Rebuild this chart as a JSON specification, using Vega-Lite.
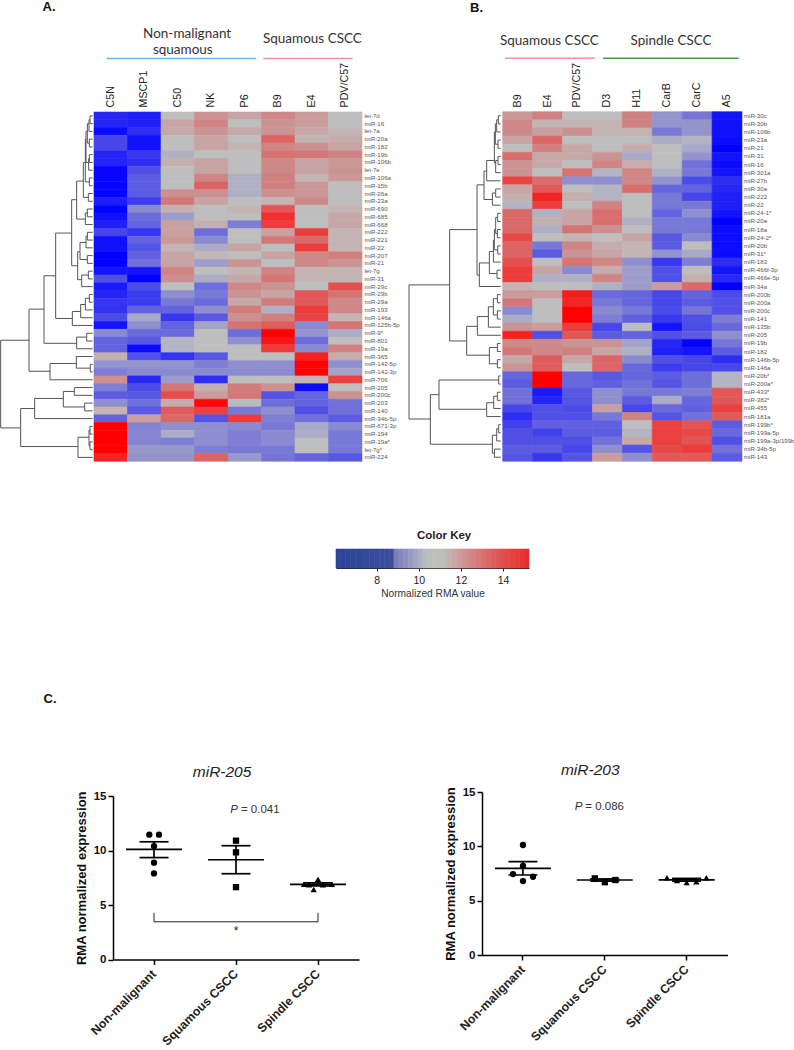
{"$schema":"https://vega.github.io/schema/vega-lite/v6.json","width":794,"height":1050,"padding":0,"autosize":{"type":"none"},"background":"white","config":{"view":{"stroke":null},"axis":{"grid":false,"labelFont":"Liberation Sans","titleFont":"Liberation Sans"}},
"resolve":{"scale":{"x":"independent","y":"independent","color":"independent","shape":"independent","xOffset":"independent","stroke":"independent"},"axis":{"x":"independent","y":"independent"}},
"layer":[
{"data":{"values":[
{"m":"let-7d","s":"C5N","v":6.9},{"m":"let-7d","s":"MSCP1","v":6.7},{"m":"let-7d","s":"C50","v":10.6},{"m":"let-7d","s":"NK","v":12},{"m":"let-7d","s":"P6","v":11.5},{"m":"let-7d","s":"B9","v":12.2},{"m":"let-7d","s":"E4","v":11.7},{"m":"let-7d","s":"PDV/C57","v":10.6},
{"m":"miR-16","s":"C5N","v":6.8},{"m":"miR-16","s":"MSCP1","v":6.7},{"m":"miR-16","s":"C50","v":11.5},{"m":"miR-16","s":"NK","v":12.3},{"m":"miR-16","s":"P6","v":10.6},{"m":"miR-16","s":"B9","v":11.9},{"m":"miR-16","s":"E4","v":11.7},{"m":"miR-16","s":"PDV/C57","v":10.6},
{"m":"let-7a","s":"C5N","v":6.3},{"m":"let-7a","s":"MSCP1","v":7},{"m":"let-7a","s":"C50","v":11.4},{"m":"let-7a","s":"NK","v":11.9},{"m":"let-7a","s":"P6","v":11.4},{"m":"let-7a","s":"B9","v":11.9},{"m":"let-7a","s":"E4","v":11.4},{"m":"let-7a","s":"PDV/C57","v":11},
{"m":"miR-20a","s":"C5N","v":7.5},{"m":"miR-20a","s":"MSCP1","v":6.4},{"m":"miR-20a","s":"C50","v":10.6},{"m":"miR-20a","s":"NK","v":11.5},{"m":"miR-20a","s":"P6","v":10.6},{"m":"miR-20a","s":"B9","v":13},{"m":"miR-20a","s":"E4","v":11.1},{"m":"miR-20a","s":"PDV/C57","v":11.3},
{"m":"miR-182","s":"C5N","v":7.5},{"m":"miR-182","s":"MSCP1","v":6.4},{"m":"miR-182","s":"C50","v":10.6},{"m":"miR-182","s":"NK","v":11.5},{"m":"miR-182","s":"P6","v":11.1},{"m":"miR-182","s":"B9","v":12.3},{"m":"miR-182","s":"E4","v":12},{"m":"miR-182","s":"PDV/C57","v":11.5},
{"m":"miR-19b","s":"C5N","v":6.8},{"m":"miR-19b","s":"MSCP1","v":7.2},{"m":"miR-19b","s":"C50","v":10},{"m":"miR-19b","s":"NK","v":10.6},{"m":"miR-19b","s":"P6","v":10.6},{"m":"miR-19b","s":"B9","v":12.7},{"m":"miR-19b","s":"E4","v":12.6},{"m":"miR-19b","s":"PDV/C57","v":12.3},
{"m":"miR-106b","s":"C5N","v":6.8},{"m":"miR-106b","s":"MSCP1","v":7},{"m":"miR-106b","s":"C50","v":11.2},{"m":"miR-106b","s":"NK","v":11.5},{"m":"miR-106b","s":"P6","v":10.6},{"m":"miR-106b","s":"B9","v":12.2},{"m":"miR-106b","s":"E4","v":11.5},{"m":"miR-106b","s":"PDV/C57","v":11.8},
{"m":"let-7e","s":"C5N","v":6.2},{"m":"let-7e","s":"MSCP1","v":7.7},{"m":"let-7e","s":"C50","v":10.6},{"m":"let-7e","s":"NK","v":11.5},{"m":"let-7e","s":"P6","v":10.6},{"m":"let-7e","s":"B9","v":12.2},{"m":"let-7e","s":"E4","v":11.5},{"m":"let-7e","s":"PDV/C57","v":11.9},
{"m":"miR-106a","s":"C5N","v":6.2},{"m":"miR-106a","s":"MSCP1","v":8},{"m":"miR-106a","s":"C50","v":10.6},{"m":"miR-106a","s":"NK","v":12.3},{"m":"miR-106a","s":"P6","v":10},{"m":"miR-106a","s":"B9","v":12.4},{"m":"miR-106a","s":"E4","v":11.1},{"m":"miR-106a","s":"PDV/C57","v":11.8},
{"m":"miR-15b","s":"C5N","v":6.2},{"m":"miR-15b","s":"MSCP1","v":8},{"m":"miR-15b","s":"C50","v":10.6},{"m":"miR-15b","s":"NK","v":13},{"m":"miR-15b","s":"P6","v":10},{"m":"miR-15b","s":"B9","v":12.4},{"m":"miR-15b","s":"E4","v":11.8},{"m":"miR-15b","s":"PDV/C57","v":10.6},
{"m":"miR-26a","s":"C5N","v":6.2},{"m":"miR-26a","s":"MSCP1","v":8},{"m":"miR-26a","s":"C50","v":12},{"m":"miR-26a","s":"NK","v":12},{"m":"miR-26a","s":"P6","v":10},{"m":"miR-26a","s":"B9","v":12},{"m":"miR-26a","s":"E4","v":11.8},{"m":"miR-26a","s":"PDV/C57","v":10.6},
{"m":"miR-23a","s":"C5N","v":6.7},{"m":"miR-23a","s":"MSCP1","v":7.3},{"m":"miR-23a","s":"C50","v":12.6},{"m":"miR-23a","s":"NK","v":11.5},{"m":"miR-23a","s":"P6","v":10.6},{"m":"miR-23a","s":"B9","v":11.1},{"m":"miR-23a","s":"E4","v":12.2},{"m":"miR-23a","s":"PDV/C57","v":10.6},
{"m":"miR-690","s":"C5N","v":6.1},{"m":"miR-690","s":"MSCP1","v":9.2},{"m":"miR-690","s":"C50","v":11.2},{"m":"miR-690","s":"NK","v":10.6},{"m":"miR-690","s":"P6","v":11.1},{"m":"miR-690","s":"B9","v":13.4},{"m":"miR-690","s":"E4","v":10.6},{"m":"miR-690","s":"PDV/C57","v":11.1},
{"m":"miR-685","s":"C5N","v":6.4},{"m":"miR-685","s":"MSCP1","v":8.5},{"m":"miR-685","s":"C50","v":9.6},{"m":"miR-685","s":"NK","v":10.6},{"m":"miR-685","s":"P6","v":10.6},{"m":"miR-685","s":"B9","v":14.3},{"m":"miR-685","s":"E4","v":10.6},{"m":"miR-685","s":"PDV/C57","v":11.4},
{"m":"miR-668","s":"C5N","v":6.7},{"m":"miR-668","s":"MSCP1","v":8.2},{"m":"miR-668","s":"C50","v":11.6},{"m":"miR-668","s":"NK","v":11.2},{"m":"miR-668","s":"P6","v":9},{"m":"miR-668","s":"B9","v":14},{"m":"miR-668","s":"E4","v":10.6},{"m":"miR-668","s":"PDV/C57","v":11.4},
{"m":"miR-222","s":"C5N","v":7.5},{"m":"miR-222","s":"MSCP1","v":7.1},{"m":"miR-222","s":"C50","v":11.6},{"m":"miR-222","s":"NK","v":8.6},{"m":"miR-222","s":"P6","v":10.6},{"m":"miR-222","s":"B9","v":11.6},{"m":"miR-222","s":"E4","v":14},{"m":"miR-222","s":"PDV/C57","v":11.1},
{"m":"miR-221","s":"C5N","v":6.4},{"m":"miR-221","s":"MSCP1","v":8.2},{"m":"miR-221","s":"C50","v":11.8},{"m":"miR-221","s":"NK","v":9.2},{"m":"miR-221","s":"P6","v":10.6},{"m":"miR-221","s":"B9","v":12.6},{"m":"miR-221","s":"E4","v":12.9},{"m":"miR-221","s":"PDV/C57","v":11.1},
{"m":"miR-22","s":"C5N","v":6.4},{"m":"miR-22","s":"MSCP1","v":7.8},{"m":"miR-22","s":"C50","v":11.1},{"m":"miR-22","s":"NK","v":9.9},{"m":"miR-22","s":"P6","v":11.5},{"m":"miR-22","s":"B9","v":10.6},{"m":"miR-22","s":"E4","v":14},{"m":"miR-22","s":"PDV/C57","v":11.1},
{"m":"miR-207","s":"C5N","v":6.1},{"m":"miR-207","s":"MSCP1","v":8.1},{"m":"miR-207","s":"C50","v":11.5},{"m":"miR-207","s":"NK","v":11},{"m":"miR-207","s":"P6","v":10.6},{"m":"miR-207","s":"B9","v":11.5},{"m":"miR-207","s":"E4","v":12.2},{"m":"miR-207","s":"PDV/C57","v":12.4},
{"m":"miR-21","s":"C5N","v":6.1},{"m":"miR-21","s":"MSCP1","v":8.7},{"m":"miR-21","s":"C50","v":11.5},{"m":"miR-21","s":"NK","v":9.6},{"m":"miR-21","s":"P6","v":11.9},{"m":"miR-21","s":"B9","v":10.6},{"m":"miR-21","s":"E4","v":12.2},{"m":"miR-21","s":"PDV/C57","v":11.9},
{"m":"let-7g","s":"C5N","v":6.5},{"m":"let-7g","s":"MSCP1","v":6.5},{"m":"let-7g","s":"C50","v":12.3},{"m":"let-7g","s":"NK","v":10.6},{"m":"let-7g","s":"P6","v":11.1},{"m":"let-7g","s":"B9","v":12.3},{"m":"let-7g","s":"E4","v":11.1},{"m":"let-7g","s":"PDV/C57","v":11.1},
{"m":"miR-31","s":"C5N","v":7.7},{"m":"miR-31","s":"MSCP1","v":6.1},{"m":"miR-31","s":"C50","v":12},{"m":"miR-31","s":"NK","v":9.9},{"m":"miR-31","s":"P6","v":11.4},{"m":"miR-31","s":"B9","v":12.6},{"m":"miR-31","s":"E4","v":11.1},{"m":"miR-31","s":"PDV/C57","v":11.1},
{"m":"miR-29c","s":"C5N","v":6.6},{"m":"miR-29c","s":"MSCP1","v":7.6},{"m":"miR-29c","s":"C50","v":10.6},{"m":"miR-29c","s":"NK","v":8.6},{"m":"miR-29c","s":"P6","v":12.2},{"m":"miR-29c","s":"B9","v":11.9},{"m":"miR-29c","s":"E4","v":10.6},{"m":"miR-29c","s":"PDV/C57","v":13.5},
{"m":"miR-29b","s":"C5N","v":6.8},{"m":"miR-29b","s":"MSCP1","v":7.3},{"m":"miR-29b","s":"C50","v":9.3},{"m":"miR-29b","s":"NK","v":8.9},{"m":"miR-29b","s":"P6","v":11.9},{"m":"miR-29b","s":"B9","v":11.5},{"m":"miR-29b","s":"E4","v":13.3},{"m":"miR-29b","s":"PDV/C57","v":12.7},
{"m":"miR-29a","s":"C5N","v":7.2},{"m":"miR-29a","s":"MSCP1","v":7.3},{"m":"miR-29a","s":"C50","v":8.9},{"m":"miR-29a","s":"NK","v":8.5},{"m":"miR-29a","s":"P6","v":11.4},{"m":"miR-29a","s":"B9","v":12.5},{"m":"miR-29a","s":"E4","v":13.3},{"m":"miR-29a","s":"PDV/C57","v":12.2},
{"m":"miR-193","s":"C5N","v":7.1},{"m":"miR-193","s":"MSCP1","v":8.2},{"m":"miR-193","s":"C50","v":8.2},{"m":"miR-193","s":"NK","v":9.3},{"m":"miR-193","s":"P6","v":12.5},{"m":"miR-193","s":"B9","v":10},{"m":"miR-193","s":"E4","v":14},{"m":"miR-193","s":"PDV/C57","v":12.2},
{"m":"miR-146a","s":"C5N","v":7.6},{"m":"miR-146a","s":"MSCP1","v":9.8},{"m":"miR-146a","s":"C50","v":7.2},{"m":"miR-146a","s":"NK","v":7.9},{"m":"miR-146a","s":"P6","v":12},{"m":"miR-146a","s":"B9","v":12.4},{"m":"miR-146a","s":"E4","v":13.8},{"m":"miR-146a","s":"PDV/C57","v":11.1},
{"m":"miR-125b-5p","s":"C5N","v":6.5},{"m":"miR-125b-5p","s":"MSCP1","v":9.3},{"m":"miR-125b-5p","s":"C50","v":8.2},{"m":"miR-125b-5p","s":"NK","v":9.7},{"m":"miR-125b-5p","s":"P6","v":12.7},{"m":"miR-125b-5p","s":"B9","v":13.2},{"m":"miR-125b-5p","s":"E4","v":9.2},{"m":"miR-125b-5p","s":"PDV/C57","v":12.7},
{"m":"miR-9*","s":"C5N","v":9.2},{"m":"miR-9*","s":"MSCP1","v":8.5},{"m":"miR-9*","s":"C50","v":8.5},{"m":"miR-9*","s":"NK","v":10.6},{"m":"miR-9*","s":"P6","v":8.6},{"m":"miR-9*","s":"B9","v":15.2},{"m":"miR-9*","s":"E4","v":9.4},{"m":"miR-9*","s":"PDV/C57","v":9.9},
{"m":"miR-801","s":"C5N","v":8.2},{"m":"miR-801","s":"MSCP1","v":7.9},{"m":"miR-801","s":"C50","v":10.1},{"m":"miR-801","s":"NK","v":10.6},{"m":"miR-801","s":"P6","v":9.3},{"m":"miR-801","s":"B9","v":14.9},{"m":"miR-801","s":"E4","v":8.6},{"m":"miR-801","s":"PDV/C57","v":10.6},
{"m":"miR-19a","s":"C5N","v":8.2},{"m":"miR-19a","s":"MSCP1","v":6.3},{"m":"miR-19a","s":"C50","v":10.1},{"m":"miR-19a","s":"NK","v":10.6},{"m":"miR-19a","s":"P6","v":10.6},{"m":"miR-19a","s":"B9","v":14},{"m":"miR-19a","s":"E4","v":9.2},{"m":"miR-19a","s":"PDV/C57","v":12.4},
{"m":"miR-365","s":"C5N","v":11.2},{"m":"miR-365","s":"MSCP1","v":7.7},{"m":"miR-365","s":"C50","v":7.1},{"m":"miR-365","s":"NK","v":7.9},{"m":"miR-365","s":"P6","v":10.6},{"m":"miR-365","s":"B9","v":10.6},{"m":"miR-365","s":"E4","v":14.5},{"m":"miR-365","s":"PDV/C57","v":11.3},
{"m":"miR-142-5p","s":"C5N","v":9.4},{"m":"miR-142-5p","s":"MSCP1","v":9.4},{"m":"miR-142-5p","s":"C50","v":9.4},{"m":"miR-142-5p","s":"NK","v":9},{"m":"miR-142-5p","s":"P6","v":9.3},{"m":"miR-142-5p","s":"B9","v":9.3},{"m":"miR-142-5p","s":"E4","v":15.2},{"m":"miR-142-5p","s":"PDV/C57","v":9.3},
{"m":"miR-142-3p","s":"C5N","v":9},{"m":"miR-142-3p","s":"MSCP1","v":9.2},{"m":"miR-142-3p","s":"C50","v":9.2},{"m":"miR-142-3p","s":"NK","v":9.2},{"m":"miR-142-3p","s":"P6","v":9.2},{"m":"miR-142-3p","s":"B9","v":9.2},{"m":"miR-142-3p","s":"E4","v":15.2},{"m":"miR-142-3p","s":"PDV/C57","v":9.7},
{"m":"miR-706","s":"C5N","v":12},{"m":"miR-706","s":"MSCP1","v":6.9},{"m":"miR-706","s":"C50","v":9.6},{"m":"miR-706","s":"NK","v":7},{"m":"miR-706","s":"P6","v":10.6},{"m":"miR-706","s":"B9","v":10.6},{"m":"miR-706","s":"E4","v":11.1},{"m":"miR-706","s":"PDV/C57","v":13.9},
{"m":"miR-205","s":"C5N","v":9},{"m":"miR-205","s":"MSCP1","v":7.6},{"m":"miR-205","s":"C50","v":12.6},{"m":"miR-205","s":"NK","v":11.2},{"m":"miR-205","s":"P6","v":12.5},{"m":"miR-205","s":"B9","v":12},{"m":"miR-205","s":"E4","v":6.3},{"m":"miR-205","s":"PDV/C57","v":10.6},
{"m":"miR-200c","s":"C5N","v":8},{"m":"miR-200c","s":"MSCP1","v":7.9},{"m":"miR-200c","s":"C50","v":13.6},{"m":"miR-200c","s":"NK","v":11.7},{"m":"miR-200c","s":"P6","v":12.6},{"m":"miR-200c","s":"B9","v":7.8},{"m":"miR-200c","s":"E4","v":8.3},{"m":"miR-200c","s":"PDV/C57","v":11.9},
{"m":"miR-203","s":"C5N","v":9.3},{"m":"miR-203","s":"MSCP1","v":8.6},{"m":"miR-203","s":"C50","v":11.3},{"m":"miR-203","s":"NK","v":15.1},{"m":"miR-203","s":"P6","v":10.4},{"m":"miR-203","s":"B9","v":8.6},{"m":"miR-203","s":"E4","v":8.2},{"m":"miR-203","s":"PDV/C57","v":8.7},
{"m":"miR-140","s":"C5N","v":11.1},{"m":"miR-140","s":"MSCP1","v":7.9},{"m":"miR-140","s":"C50","v":13.2},{"m":"miR-140","s":"NK","v":13.9},{"m":"miR-140","s":"P6","v":8.9},{"m":"miR-140","s":"B9","v":9.3},{"m":"miR-140","s":"E4","v":7.7},{"m":"miR-140","s":"PDV/C57","v":8.7},
{"m":"miR-34b-5p","s":"C5N","v":8.2},{"m":"miR-34b-5p","s":"MSCP1","v":11.6},{"m":"miR-34b-5p","s":"C50","v":12.9},{"m":"miR-34b-5p","s":"NK","v":7.8},{"m":"miR-34b-5p","s":"P6","v":14},{"m":"miR-34b-5p","s":"B9","v":9},{"m":"miR-34b-5p","s":"E4","v":8.7},{"m":"miR-34b-5p","s":"PDV/C57","v":8},
{"m":"miR-671-3p","s":"C5N","v":15.2},{"m":"miR-671-3p","s":"MSCP1","v":9.1},{"m":"miR-671-3p","s":"C50","v":9.3},{"m":"miR-671-3p","s":"NK","v":9.3},{"m":"miR-671-3p","s":"P6","v":9.2},{"m":"miR-671-3p","s":"B9","v":8.9},{"m":"miR-671-3p","s":"E4","v":9.8},{"m":"miR-671-3p","s":"PDV/C57","v":9.2},
{"m":"miR-194","s":"C5N","v":15.2},{"m":"miR-194","s":"MSCP1","v":9.1},{"m":"miR-194","s":"C50","v":9.9},{"m":"miR-194","s":"NK","v":9.3},{"m":"miR-194","s":"P6","v":9},{"m":"miR-194","s":"B9","v":9.2},{"m":"miR-194","s":"E4","v":9.9},{"m":"miR-194","s":"PDV/C57","v":8.9},
{"m":"miR-19a*","s":"C5N","v":15.2},{"m":"miR-19a*","s":"MSCP1","v":9.1},{"m":"miR-19a*","s":"C50","v":9},{"m":"miR-19a*","s":"NK","v":9.3},{"m":"miR-19a*","s":"P6","v":9},{"m":"miR-19a*","s":"B9","v":9.2},{"m":"miR-19a*","s":"E4","v":10.6},{"m":"miR-19a*","s":"PDV/C57","v":8.9},
{"m":"let-7g*","s":"C5N","v":15.2},{"m":"let-7g*","s":"MSCP1","v":9.5},{"m":"let-7g*","s":"C50","v":9.5},{"m":"let-7g*","s":"NK","v":9},{"m":"let-7g*","s":"P6","v":8.9},{"m":"let-7g*","s":"B9","v":8.9},{"m":"let-7g*","s":"E4","v":10.6},{"m":"let-7g*","s":"PDV/C57","v":8.9},
{"m":"miR-224","s":"C5N","v":14.5},{"m":"miR-224","s":"MSCP1","v":9.4},{"m":"miR-224","s":"C50","v":9.4},{"m":"miR-224","s":"NK","v":13},{"m":"miR-224","s":"P6","v":9.5},{"m":"miR-224","s":"B9","v":8.8},{"m":"miR-224","s":"E4","v":8.3},{"m":"miR-224","s":"PDV/C57","v":7.9}
]},"mark":{"type":"rect","strokeWidth":0.6},"encoding":{
"x":{"field":"s","type":"nominal","sort":null,"scale":{"range":[94,362],"paddingInner":0,"paddingOuter":0},"axis":{"orient":"top","offset":-112,"title":null,"domain":false,"ticks":false,"labelAngle":-90,"labelFontSize":10.7,"labelColor":"#222","labelPadding":5,"labelOverlap":false}},
"y":{"field":"m","type":"nominal","sort":null,"scale":{"range":[112,461.3],"paddingInner":0,"paddingOuter":0},"axis":{"orient":"right","offset":-432,"title":null,"domain":false,"ticks":false,"labelFontSize":6.1,"labelColor":"#555","labelPadding":2,"labelOverlap":false}},
"color":{"field":"v","type":"quantitative","legend":null,"scale":{"domain":[6.1,6.5,6.9,7.3,7.7,8.1,8.5,8.9,9.2,9.5,9.8,10.1,10.6,11.1,11.5,12,12.5,13,13.5,14,14.5,15.2],"range":["#0000ff","#1414fa","#2828f4","#3c3cee","#5050e6","#6060e0","#6a6adc","#7878d6","#8a8ad0","#9898cc","#a8a8c8","#b4b4c4","#bebebe","#c4b4b4","#c8a4a4","#cc9090","#d27c7c","#dc6464","#e45050","#ec3c3c","#f42424","#ff0000"]}},
"stroke":{"field":"v","type":"quantitative","legend":null,"scale":{"domain":[6.1,6.5,6.9,7.3,7.7,8.1,8.5,8.9,9.2,9.5,9.8,10.1,10.6,11.1,11.5,12,12.5,13,13.5,14,14.5,15.2],"range":["#0000ff","#1414fa","#2828f4","#3c3cee","#5050e6","#6060e0","#6a6adc","#7878d6","#8a8ad0","#9898cc","#a8a8c8","#b4b4c4","#bebebe","#c4b4b4","#c8a4a4","#cc9090","#d27c7c","#dc6464","#e45050","#ec3c3c","#f42424","#ff0000"]}}}},
{"data":{"values":[
{"m":"miR-30c","s":"B9","v":11.8},{"m":"miR-30c","s":"E4","v":12.4},{"m":"miR-30c","s":"PDV/C57","v":10.6},{"m":"miR-30c","s":"D3","v":10.6},{"m":"miR-30c","s":"H11","v":12.4},{"m":"miR-30c","s":"CarB","v":9.4},{"m":"miR-30c","s":"CarC","v":8.8},{"m":"miR-30c","s":"A5","v":6.5},
{"m":"miR-30b","s":"B9","v":12.2},{"m":"miR-30b","s":"E4","v":11.1},{"m":"miR-30b","s":"PDV/C57","v":11.1},{"m":"miR-30b","s":"D3","v":11.1},{"m":"miR-30b","s":"H11","v":12.4},{"m":"miR-30b","s":"CarB","v":9.4},{"m":"miR-30b","s":"CarC","v":9.4},{"m":"miR-30b","s":"A5","v":6.4},
{"m":"miR-106b","s":"B9","v":12.2},{"m":"miR-106b","s":"E4","v":11.6},{"m":"miR-106b","s":"PDV/C57","v":12},{"m":"miR-106b","s":"D3","v":11.1},{"m":"miR-106b","s":"H11","v":11.1},{"m":"miR-106b","s":"CarB","v":8.9},{"m":"miR-106b","s":"CarC","v":9.4},{"m":"miR-106b","s":"A5","v":6.4},
{"m":"miR-23a","s":"B9","v":11.5},{"m":"miR-23a","s":"E4","v":13},{"m":"miR-23a","s":"PDV/C57","v":10.6},{"m":"miR-23a","s":"D3","v":10.6},{"m":"miR-23a","s":"H11","v":10.6},{"m":"miR-23a","s":"CarB","v":9.9},{"m":"miR-23a","s":"CarC","v":10.1},{"m":"miR-23a","s":"A5","v":6.3},
{"m":"miR-21","s":"B9","v":10.6},{"m":"miR-21","s":"E4","v":12.4},{"m":"miR-21","s":"PDV/C57","v":11.4},{"m":"miR-21","s":"D3","v":10.6},{"m":"miR-21","s":"H11","v":11.3},{"m":"miR-21","s":"CarB","v":10.6},{"m":"miR-21","s":"CarC","v":9.8},{"m":"miR-21","s":"A5","v":6.1},
{"m":"miR-31","s":"B9","v":12.8},{"m":"miR-31","s":"E4","v":11.4},{"m":"miR-31","s":"PDV/C57","v":11.4},{"m":"miR-31","s":"D3","v":11.9},{"m":"miR-31","s":"H11","v":9.8},{"m":"miR-31","s":"CarB","v":10.6},{"m":"miR-31","s":"CarC","v":9.4},{"m":"miR-31","s":"A5","v":6.5},
{"m":"miR-16","s":"B9","v":11.9},{"m":"miR-16","s":"E4","v":11.4},{"m":"miR-16","s":"PDV/C57","v":10.6},{"m":"miR-16","s":"D3","v":12.3},{"m":"miR-16","s":"H11","v":11.3},{"m":"miR-16","s":"CarB","v":10.6},{"m":"miR-16","s":"CarC","v":8.7},{"m":"miR-16","s":"A5","v":6.3},
{"m":"miR-301a","s":"B9","v":11.9},{"m":"miR-301a","s":"E4","v":10.6},{"m":"miR-301a","s":"PDV/C57","v":12.7},{"m":"miR-301a","s":"D3","v":10.1},{"m":"miR-301a","s":"H11","v":12.3},{"m":"miR-301a","s":"CarB","v":10},{"m":"miR-301a","s":"CarC","v":8.9},{"m":"miR-301a","s":"A5","v":6.5},
{"m":"miR-27b","s":"B9","v":13.8},{"m":"miR-27b","s":"E4","v":12.8},{"m":"miR-27b","s":"PDV/C57","v":9.3},{"m":"miR-27b","s":"D3","v":9.3},{"m":"miR-27b","s":"H11","v":12.2},{"m":"miR-27b","s":"CarB","v":9.4},{"m":"miR-27b","s":"CarC","v":7.6},{"m":"miR-27b","s":"A5","v":7},
{"m":"miR-30a","s":"B9","v":11.5},{"m":"miR-30a","s":"E4","v":13.3},{"m":"miR-30a","s":"PDV/C57","v":10.6},{"m":"miR-30a","s":"D3","v":10.1},{"m":"miR-30a","s":"H11","v":12.8},{"m":"miR-30a","s":"CarB","v":8.3},{"m":"miR-30a","s":"CarC","v":8.2},{"m":"miR-30a","s":"A5","v":6.9},
{"m":"miR-222","s":"B9","v":11.2},{"m":"miR-222","s":"E4","v":14.5},{"m":"miR-222","s":"PDV/C57","v":11.2},{"m":"miR-222","s":"D3","v":10.1},{"m":"miR-222","s":"H11","v":10.6},{"m":"miR-222","s":"CarB","v":8.9},{"m":"miR-222","s":"CarC","v":7.5},{"m":"miR-222","s":"A5","v":6.7},
{"m":"miR-22","s":"B9","v":10.1},{"m":"miR-22","s":"E4","v":14},{"m":"miR-22","s":"PDV/C57","v":10.6},{"m":"miR-22","s":"D3","v":12.3},{"m":"miR-22","s":"H11","v":10.6},{"m":"miR-22","s":"CarB","v":8.9},{"m":"miR-22","s":"CarC","v":8.9},{"m":"miR-22","s":"A5","v":6.7},
{"m":"miR-24-1*","s":"B9","v":12.9},{"m":"miR-24-1*","s":"E4","v":10},{"m":"miR-24-1*","s":"PDV/C57","v":11.5},{"m":"miR-24-1*","s":"D3","v":12.8},{"m":"miR-24-1*","s":"H11","v":10.6},{"m":"miR-24-1*","s":"CarB","v":8.2},{"m":"miR-24-1*","s":"CarC","v":9.3},{"m":"miR-24-1*","s":"A5","v":6.5},
{"m":"miR-20a","s":"B9","v":12.9},{"m":"miR-20a","s":"E4","v":11.2},{"m":"miR-20a","s":"PDV/C57","v":11.5},{"m":"miR-20a","s":"D3","v":12.8},{"m":"miR-20a","s":"H11","v":10},{"m":"miR-20a","s":"CarB","v":8.9},{"m":"miR-20a","s":"CarC","v":8.9},{"m":"miR-20a","s":"A5","v":6.1},
{"m":"miR-18a","s":"B9","v":12.9},{"m":"miR-18a","s":"E4","v":10},{"m":"miR-18a","s":"PDV/C57","v":12.7},{"m":"miR-18a","s":"D3","v":12},{"m":"miR-18a","s":"H11","v":10.6},{"m":"miR-18a","s":"CarB","v":8.9},{"m":"miR-18a","s":"CarC","v":8.9},{"m":"miR-18a","s":"A5","v":6.3},
{"m":"miR-24-2*","s":"B9","v":13.7},{"m":"miR-24-2*","s":"E4","v":10.6},{"m":"miR-24-2*","s":"PDV/C57","v":11.1},{"m":"miR-24-2*","s":"D3","v":10.6},{"m":"miR-24-2*","s":"H11","v":11.5},{"m":"miR-24-2*","s":"CarB","v":7.9},{"m":"miR-24-2*","s":"CarC","v":9.2},{"m":"miR-24-2*","s":"A5","v":6.3},
{"m":"miR-20b","s":"B9","v":13},{"m":"miR-20b","s":"E4","v":8.9},{"m":"miR-20b","s":"PDV/C57","v":12.3},{"m":"miR-20b","s":"D3","v":11.3},{"m":"miR-20b","s":"H11","v":11.1},{"m":"miR-20b","s":"CarB","v":8},{"m":"miR-20b","s":"CarC","v":10.6},{"m":"miR-20b","s":"A5","v":6.3},
{"m":"miR-31*","s":"B9","v":13},{"m":"miR-31*","s":"E4","v":8},{"m":"miR-31*","s":"PDV/C57","v":11.9},{"m":"miR-31*","s":"D3","v":11.5},{"m":"miR-31*","s":"H11","v":11.1},{"m":"miR-31*","s":"CarB","v":9.4},{"m":"miR-31*","s":"CarC","v":9.8},{"m":"miR-31*","s":"A5","v":6.3},
{"m":"miR-183","s":"B9","v":13.5},{"m":"miR-183","s":"E4","v":10.6},{"m":"miR-183","s":"PDV/C57","v":12.7},{"m":"miR-183","s":"D3","v":12.2},{"m":"miR-183","s":"H11","v":9.3},{"m":"miR-183","s":"CarB","v":7.2},{"m":"miR-183","s":"CarC","v":9},{"m":"miR-183","s":"A5","v":7},
{"m":"miR-466f-3p","s":"B9","v":14},{"m":"miR-466f-3p","s":"E4","v":11.5},{"m":"miR-466f-3p","s":"PDV/C57","v":9.2},{"m":"miR-466f-3p","s":"D3","v":11.3},{"m":"miR-466f-3p","s":"H11","v":9.6},{"m":"miR-466f-3p","s":"CarB","v":7.7},{"m":"miR-466f-3p","s":"CarC","v":10.6},{"m":"miR-466f-3p","s":"A5","v":6.5},
{"m":"miR-466e-5p","s":"B9","v":14},{"m":"miR-466e-5p","s":"E4","v":10},{"m":"miR-466e-5p","s":"PDV/C57","v":10},{"m":"miR-466e-5p","s":"D3","v":12.3},{"m":"miR-466e-5p","s":"H11","v":9.6},{"m":"miR-466e-5p","s":"CarB","v":7.7},{"m":"miR-466e-5p","s":"CarC","v":11.2},{"m":"miR-466e-5p","s":"A5","v":6.9},
{"m":"miR-34a","s":"B9","v":11.1},{"m":"miR-34a","s":"E4","v":10.6},{"m":"miR-34a","s":"PDV/C57","v":10.6},{"m":"miR-34a","s":"D3","v":10},{"m":"miR-34a","s":"H11","v":9.6},{"m":"miR-34a","s":"CarB","v":11.7},{"m":"miR-34a","s":"CarC","v":12.9},{"m":"miR-34a","s":"A5","v":6.1},
{"m":"miR-200b","s":"B9","v":11.7},{"m":"miR-200b","s":"E4","v":11.7},{"m":"miR-200b","s":"PDV/C57","v":14.7},{"m":"miR-200b","s":"D3","v":8.5},{"m":"miR-200b","s":"H11","v":8.3},{"m":"miR-200b","s":"CarB","v":7.5},{"m":"miR-200b","s":"CarC","v":8.2},{"m":"miR-200b","s":"A5","v":7.6},
{"m":"miR-200a","s":"B9","v":12.6},{"m":"miR-200a","s":"E4","v":10.6},{"m":"miR-200a","s":"PDV/C57","v":14.5},{"m":"miR-200a","s":"D3","v":8.9},{"m":"miR-200a","s":"H11","v":8.3},{"m":"miR-200a","s":"CarB","v":7.5},{"m":"miR-200a","s":"CarC","v":8},{"m":"miR-200a","s":"A5","v":7.7},
{"m":"miR-200c","s":"B9","v":9.2},{"m":"miR-200c","s":"E4","v":10.6},{"m":"miR-200c","s":"PDV/C57","v":15.2},{"m":"miR-200c","s":"D3","v":9.2},{"m":"miR-200c","s":"H11","v":8.9},{"m":"miR-200c","s":"CarB","v":7.6},{"m":"miR-200c","s":"CarC","v":8.8},{"m":"miR-200c","s":"A5","v":7.7},
{"m":"miR-141","s":"B9","v":9.9},{"m":"miR-141","s":"E4","v":10.6},{"m":"miR-141","s":"PDV/C57","v":15.2},{"m":"miR-141","s":"D3","v":9},{"m":"miR-141","s":"H11","v":8.1},{"m":"miR-141","s":"CarB","v":7.2},{"m":"miR-141","s":"CarC","v":7.7},{"m":"miR-141","s":"A5","v":9},
{"m":"miR-135b","s":"B9","v":11.9},{"m":"miR-135b","s":"E4","v":11.7},{"m":"miR-135b","s":"PDV/C57","v":14},{"m":"miR-135b","s":"D3","v":7.5},{"m":"miR-135b","s":"H11","v":10.6},{"m":"miR-135b","s":"CarB","v":6.5},{"m":"miR-135b","s":"CarC","v":7.6},{"m":"miR-135b","s":"A5","v":8.4},
{"m":"miR-205","s":"B9","v":14.6},{"m":"miR-205","s":"E4","v":7.7},{"m":"miR-205","s":"PDV/C57","v":13.3},{"m":"miR-205","s":"D3","v":8},{"m":"miR-205","s":"H11","v":8.2},{"m":"miR-205","s":"CarB","v":7.7},{"m":"miR-205","s":"CarC","v":8},{"m":"miR-205","s":"A5","v":9.3},
{"m":"miR-19b","s":"B9","v":12.2},{"m":"miR-19b","s":"E4","v":12.2},{"m":"miR-19b","s":"PDV/C57","v":11.9},{"m":"miR-19b","s":"D3","v":11.9},{"m":"miR-19b","s":"H11","v":9.7},{"m":"miR-19b","s":"CarB","v":6.8},{"m":"miR-19b","s":"CarC","v":6.1},{"m":"miR-19b","s":"A5","v":8.8},
{"m":"miR-182","s":"B9","v":12.6},{"m":"miR-182","s":"E4","v":12.2},{"m":"miR-182","s":"PDV/C57","v":12.4},{"m":"miR-182","s":"D3","v":11.5},{"m":"miR-182","s":"H11","v":10},{"m":"miR-182","s":"CarB","v":6.7},{"m":"miR-182","s":"CarC","v":6.5},{"m":"miR-182","s":"A5","v":8},
{"m":"miR-146b-5p","s":"B9","v":11.4},{"m":"miR-146b-5p","s":"E4","v":13.2},{"m":"miR-146b-5p","s":"PDV/C57","v":11.4},{"m":"miR-146b-5p","s":"D3","v":13},{"m":"miR-146b-5p","s":"H11","v":9.2},{"m":"miR-146b-5p","s":"CarB","v":7.7},{"m":"miR-146b-5p","s":"CarC","v":7.5},{"m":"miR-146b-5p","s":"A5","v":7},
{"m":"miR-146a","s":"B9","v":11.9},{"m":"miR-146a","s":"E4","v":13.2},{"m":"miR-146a","s":"PDV/C57","v":10.6},{"m":"miR-146a","s":"D3","v":13},{"m":"miR-146a","s":"H11","v":8.4},{"m":"miR-146a","s":"CarB","v":7.3},{"m":"miR-146a","s":"CarC","v":7.5},{"m":"miR-146a","s":"A5","v":7.5},
{"m":"miR-20b*","s":"B9","v":8.3},{"m":"miR-20b*","s":"E4","v":15.2},{"m":"miR-20b*","s":"PDV/C57","v":8.4},{"m":"miR-20b*","s":"D3","v":7.9},{"m":"miR-20b*","s":"H11","v":8.3},{"m":"miR-20b*","s":"CarB","v":8},{"m":"miR-20b*","s":"CarC","v":8.6},{"m":"miR-20b*","s":"A5","v":10.1},
{"m":"miR-200a*","s":"B9","v":8},{"m":"miR-200a*","s":"E4","v":15.2},{"m":"miR-200a*","s":"PDV/C57","v":8.4},{"m":"miR-200a*","s":"D3","v":8.1},{"m":"miR-200a*","s":"H11","v":8.7},{"m":"miR-200a*","s":"CarB","v":7.8},{"m":"miR-200a*","s":"CarC","v":8.6},{"m":"miR-200a*","s":"A5","v":10.1},
{"m":"miR-433*","s":"B9","v":8.7},{"m":"miR-433*","s":"E4","v":6.6},{"m":"miR-433*","s":"PDV/C57","v":7.9},{"m":"miR-433*","s":"D3","v":9.3},{"m":"miR-433*","s":"H11","v":8.9},{"m":"miR-433*","s":"CarB","v":8.9},{"m":"miR-433*","s":"CarC","v":9},{"m":"miR-433*","s":"A5","v":13.3},
{"m":"miR-382*","s":"B9","v":8.7},{"m":"miR-382*","s":"E4","v":6.8},{"m":"miR-382*","s":"PDV/C57","v":7.8},{"m":"miR-382*","s":"D3","v":9.3},{"m":"miR-382*","s":"H11","v":8},{"m":"miR-382*","s":"CarB","v":9.9},{"m":"miR-382*","s":"CarC","v":8.3},{"m":"miR-382*","s":"A5","v":13.3},
{"m":"miR-455","s":"B9","v":7.5},{"m":"miR-455","s":"E4","v":7.7},{"m":"miR-455","s":"PDV/C57","v":7.6},{"m":"miR-455","s":"D3","v":11.6},{"m":"miR-455","s":"H11","v":7.5},{"m":"miR-455","s":"CarB","v":8.5},{"m":"miR-455","s":"CarC","v":8.1},{"m":"miR-455","s":"A5","v":13.9},
{"m":"miR-181a","s":"B9","v":7},{"m":"miR-181a","s":"E4","v":7.7},{"m":"miR-181a","s":"PDV/C57","v":7.7},{"m":"miR-181a","s":"D3","v":8.9},{"m":"miR-181a","s":"H11","v":12.3},{"m":"miR-181a","s":"CarB","v":7.8},{"m":"miR-181a","s":"CarC","v":8.7},{"m":"miR-181a","s":"A5","v":13.2},
{"m":"miR-199b*","s":"B9","v":7.4},{"m":"miR-199b*","s":"E4","v":8.1},{"m":"miR-199b*","s":"PDV/C57","v":8.1},{"m":"miR-199b*","s":"D3","v":8.1},{"m":"miR-199b*","s":"H11","v":10.6},{"m":"miR-199b*","s":"CarB","v":13.9},{"m":"miR-199b*","s":"CarC","v":13.4},{"m":"miR-199b*","s":"A5","v":8},
{"m":"miR-199a-5p","s":"B9","v":7.7},{"m":"miR-199a-5p","s":"E4","v":7.4},{"m":"miR-199a-5p","s":"PDV/C57","v":8},{"m":"miR-199a-5p","s":"D3","v":8},{"m":"miR-199a-5p","s":"H11","v":10.1},{"m":"miR-199a-5p","s":"CarB","v":13.9},{"m":"miR-199a-5p","s":"CarC","v":13.7},{"m":"miR-199a-5p","s":"A5","v":8.4},
{"m":"miR-199a-3p/199b","s":"B9","v":7.7},{"m":"miR-199a-3p/199b","s":"E4","v":7.7},{"m":"miR-199a-3p/199b","s":"PDV/C57","v":7.7},{"m":"miR-199a-3p/199b","s":"D3","v":8.7},{"m":"miR-199a-3p/199b","s":"H11","v":11.4},{"m":"miR-199a-3p/199b","s":"CarB","v":13.9},{"m":"miR-199a-3p/199b","s":"CarC","v":13.4},{"m":"miR-199a-3p/199b","s":"A5","v":7.7},
{"m":"miR-34b-5p","s":"B9","v":8},{"m":"miR-34b-5p","s":"E4","v":8},{"m":"miR-34b-5p","s":"PDV/C57","v":7.5},{"m":"miR-34b-5p","s":"D3","v":9.3},{"m":"miR-34b-5p","s":"H11","v":7.8},{"m":"miR-34b-5p","s":"CarB","v":13.7},{"m":"miR-34b-5p","s":"CarC","v":14},{"m":"miR-34b-5p","s":"A5","v":8.7},
{"m":"miR-143","s":"B9","v":7.8},{"m":"miR-143","s":"E4","v":7.2},{"m":"miR-143","s":"PDV/C57","v":7.8},{"m":"miR-143","s":"D3","v":11.7},{"m":"miR-143","s":"H11","v":9.3},{"m":"miR-143","s":"CarB","v":13.3},{"m":"miR-143","s":"CarC","v":13.3},{"m":"miR-143","s":"A5","v":8}
]},"mark":{"type":"rect","strokeWidth":0.6},"encoding":{
"x":{"field":"s","type":"nominal","sort":null,"scale":{"range":[502.7,742],"paddingInner":0,"paddingOuter":0},"axis":{"orient":"top","offset":-112,"title":null,"domain":false,"ticks":false,"labelAngle":-90,"labelFontSize":10.7,"labelColor":"#222","labelPadding":5,"labelOverlap":false}},
"y":{"field":"m","type":"nominal","sort":null,"scale":{"range":[111.7,461.3],"paddingInner":0,"paddingOuter":0},"axis":{"orient":"right","offset":-52,"title":null,"domain":false,"ticks":false,"labelFontSize":6.1,"labelColor":"#555","labelPadding":1.5,"labelOverlap":false}},
"color":{"field":"v","type":"quantitative","legend":null,"scale":{"domain":[6.1,6.5,6.9,7.3,7.7,8.1,8.5,8.9,9.2,9.5,9.8,10.1,10.6,11.1,11.5,12,12.5,13,13.5,14,14.5,15.2],"range":["#0000ff","#1414fa","#2828f4","#3c3cee","#5050e6","#6060e0","#6a6adc","#7878d6","#8a8ad0","#9898cc","#a8a8c8","#b4b4c4","#bebebe","#c4b4b4","#c8a4a4","#cc9090","#d27c7c","#dc6464","#e45050","#ec3c3c","#f42424","#ff0000"]}},
"stroke":{"field":"v","type":"quantitative","legend":null,"scale":{"domain":[6.1,6.5,6.9,7.3,7.7,8.1,8.5,8.9,9.2,9.5,9.8,10.1,10.6,11.1,11.5,12,12.5,13,13.5,14,14.5,15.2],"range":["#0000ff","#1414fa","#2828f4","#3c3cee","#5050e6","#6060e0","#6a6adc","#7878d6","#8a8ad0","#9898cc","#a8a8c8","#b4b4c4","#bebebe","#c4b4b4","#c8a4a4","#cc9090","#d27c7c","#dc6464","#e45050","#ec3c3c","#f42424","#ff0000"]}}}},
{"data":{"values":[
{"n":2,"r1":29.4,"r2":40.7,"c1":87,"c2":62},{"n":87,"r1":25.4,"r2":33.4,"c1":132,"c2":150},{"n":132,"r1":21.1,"r2":29.8,"c1":167,"c2":230},{"n":167,"r1":15.6,"r2":26.6,"c1":215,"c2":217},{"n":215,"r1":11.3,"r2":19.8,"c1":230,"c2":233},{"n":230,"r1":8.9,"r2":13.8,"c1":250,"c2":256},{"n":250,"r1":6.5,"r2":11,"c1":256,"c2":265},{"n":256,"r1":3.5,"r2":9,"c1":258,"c2":268},{"n":258,"r1":2.5,"r2":6.5,"c1":262,"c2":266},{"n":262,"r1":1.5,"r2":4,"c1":267,"c2":268},{"n":267,"r1":1,"r2":2.5,"c1":270,"c2":278},{"n":270,"r1":0.5,"r2":1.5,"c1":278,"c2":278},{"n":268,"r1":3.5,"r2":4.5,"c1":278,"c2":278},{"n":266,"r1":6,"r2":7.5,"c1":268,"c2":278},{"n":268,"r1":5.5,"r2":6.5,"c1":278,"c2":278},{"n":268,"r1":8.5,"r2":9.5,"c1":278,"c2":278},{"n":265,"r1":10.5,"r2":11.5,"c1":278,"c2":278},{"n":256,"r1":13,"r2":14.5,"c1":262,"c2":278},{"n":262,"r1":12.5,"r2":13.5,"c1":278,"c2":278},{"n":233,"r1":18,"r2":21.6,"c1":240,"c2":245},{"n":240,"r1":16.8,"r2":19,"c1":258,"c2":262},{"n":258,"r1":16,"r2":17.5,"c1":262,"c2":278},{"n":262,"r1":15.5,"r2":16.5,"c1":278,"c2":278},{"n":262,"r1":18.5,"r2":19.5,"c1":278,"c2":278},{"n":245,"r1":21,"r2":22.5,"c1":265,"c2":278},{"n":265,"r1":20.5,"r2":21.5,"c1":278,"c2":278},{"n":217,"r1":25.7,"r2":27.5,"c1":242,"c2":278},{"n":242,"r1":24.8,"r2":26.5,"c1":256,"c2":278},{"n":256,"r1":24,"r2":25.5,"c1":268,"c2":278},{"n":268,"r1":23.5,"r2":24.5,"c1":278,"c2":278},{"n":230,"r1":29,"r2":30.5,"c1":260,"c2":278},{"n":260,"r1":28.5,"r2":29.5,"c1":278,"c2":278},{"n":150,"r1":32.4,"r2":34.5,"c1":229,"c2":278},{"n":229,"r1":31.5,"r2":33,"c1":278,"c2":271},{"n":271,"r1":32.5,"r2":33.5,"c1":278,"c2":278},{"n":62,"r1":38.2,"r2":43.1,"c1":104,"c2":234},{"n":104,"r1":36.9,"r2":39.5,"c1":190,"c2":278},{"n":190,"r1":36,"r2":38,"c1":223,"c2":254},{"n":223,"r1":35.5,"r2":36.5,"c1":278,"c2":278},{"n":254,"r1":37.5,"r2":38.5,"c1":278,"c2":278},{"n":234,"r1":41.9,"r2":44.5,"c1":267,"c2":278},{"n":267,"r1":41,"r2":43,"c1":270,"c2":270},{"n":270,"r1":40.5,"r2":41.5,"c1":278,"c2":278},{"n":270,"r1":42.5,"r2":43.5,"c1":278,"c2":278}
]},
"encoding":{"x":{"field":"n","type":"quantitative","scale":{"domain":[0,282],"range":[0,94],"nice":false,"zero":false},"axis":null}},
"layer":[
{"mark":{"type":"rule","color":"#555","strokeWidth":1},"encoding":{"x2":{"field":"c1"},"y":{"field":"r1","type":"quantitative","scale":{"domain":[0,45],"range":[112,461.3],"nice":false,"zero":false},"axis":null}}},
{"mark":{"type":"rule","color":"#555","strokeWidth":1},"encoding":{"x2":{"field":"c2"},"y":{"field":"r2","type":"quantitative","axis":null}}},
{"mark":{"type":"rule","color":"#555","strokeWidth":1},"encoding":{"y":{"field":"r1","type":"quantitative","axis":null},"y2":{"field":"r2"}}}
]},
{"data":{"values":[
{"n":12,"r1":21.3,"r2":37.8,"c1":134,"c2":76},{"n":134,"r1":14.5,"r2":28.2,"c1":216,"c2":185},{"n":216,"r1":9,"r2":20.1,"c1":237,"c2":223},{"n":237,"r1":7.3,"r2":10.8,"c1":245,"c2":262},{"n":245,"r1":6,"r2":8.5,"c1":268,"c2":287},{"n":268,"r1":2.5,"r2":6.3,"c1":271,"c2":272},{"n":271,"r1":1.5,"r2":4,"c1":275,"c2":279},{"n":275,"r1":1,"r2":2.5,"c1":280,"c2":287},{"n":280,"r1":0.5,"r2":1.5,"c1":287,"c2":287},{"n":279,"r1":3.5,"r2":4.5,"c1":287,"c2":287},{"n":272,"r1":6,"r2":7.5,"c1":279,"c2":287},{"n":279,"r1":5.5,"r2":6.5,"c1":287,"c2":287},{"n":262,"r1":10,"r2":11.5,"c1":272,"c2":287},{"n":272,"r1":9.5,"r2":10.5,"c1":287,"c2":287},{"n":223,"r1":18.6,"r2":21.5,"c1":253,"c2":287},{"n":253,"r1":17.2,"r2":19.9,"c1":265,"c2":276},{"n":265,"r1":15.8,"r2":18.5,"c1":268,"c2":287},{"n":268,"r1":14.5,"r2":17,"c1":272,"c2":278},{"n":272,"r1":13,"r2":15,"c1":278,"c2":277},{"n":278,"r1":12.5,"r2":13.5,"c1":287,"c2":287},{"n":277,"r1":14.5,"r2":15.5,"c1":287,"c2":287},{"n":278,"r1":16.5,"r2":17.5,"c1":287,"c2":287},{"n":276,"r1":19.5,"r2":20.5,"c1":287,"c2":287},{"n":185,"r1":26.4,"r2":29.95,"c1":217,"c2":253},{"n":217,"r1":25.2,"r2":27.5,"c1":250,"c2":287},{"n":250,"r1":24,"r2":26.5,"c1":265,"c2":287},{"n":265,"r1":23,"r2":25,"c1":277,"c2":277},{"n":277,"r1":22.5,"r2":23.5,"c1":287,"c2":287},{"n":277,"r1":24.5,"r2":25.5,"c1":287,"c2":287},{"n":253,"r1":29,"r2":31,"c1":277,"c2":277},{"n":277,"r1":28.5,"r2":29.5,"c1":287,"c2":287},{"n":277,"r1":30.5,"r2":31.5,"c1":287,"c2":287},{"n":76,"r1":34.8,"r2":40.9,"c1":102,"c2":262},{"n":102,"r1":33,"r2":36.6,"c1":281,"c2":245},{"n":281,"r1":32.5,"r2":33.5,"c1":287,"c2":287},{"n":245,"r1":35.8,"r2":37.5,"c1":266,"c2":287},{"n":266,"r1":35,"r2":36.5,"c1":277,"c2":287},{"n":277,"r1":34.5,"r2":35.5,"c1":287,"c2":287},{"n":262,"r1":39.8,"r2":42,"c1":275,"c2":268},{"n":275,"r1":39,"r2":40.5,"c1":281,"c2":287},{"n":281,"r1":38.5,"r2":39.5,"c1":287,"c2":287},{"n":268,"r1":41.5,"r2":42.5,"c1":287,"c2":287}
]},
"encoding":{"x":{"field":"n","type":"quantitative","scale":{"domain":[0,293],"range":[405,502.7],"nice":false,"zero":false},"axis":null}},
"layer":[
{"mark":{"type":"rule","color":"#555","strokeWidth":1},"encoding":{"x2":{"field":"c1"},"y":{"field":"r1","type":"quantitative","scale":{"domain":[0,43],"range":[111.7,461.3],"nice":false,"zero":false},"axis":null}}},
{"mark":{"type":"rule","color":"#555","strokeWidth":1},"encoding":{"x2":{"field":"c2"},"y":{"field":"r2","type":"quantitative","axis":null}}},
{"mark":{"type":"rule","color":"#555","strokeWidth":1},"encoding":{"y":{"field":"r1","type":"quantitative","axis":null},"y2":{"field":"r2"}}}
]},
{"data":{"values":[{"t":"Non-malignant","c":2.78,"r":-10.1},{"t":"squamous","c":2.65,"r":-8.03},{"t":"Squamous CSCC","c":6.52,"r":-9.45}]},"mark":{"type":"text","font":"Lato","fontSize":13.5,"color":"#333","baseline":"middle"},"encoding":{"text":{"field":"t"},"x":{"field":"c","type":"quantitative","scale":{"domain":[0,8],"range":[94,362],"nice":false,"zero":false},"axis":null},"y":{"field":"r","type":"quantitative","scale":{"domain":[0,45],"range":[112,461.3],"nice":false,"zero":false},"axis":null}}},
{"data":{"values":[{"t":"Squamous CSCC","c":1.56,"r":-8.7},{"t":"Spindle CSCC","c":5.63,"r":-8.7}]},"mark":{"type":"text","font":"Lato","fontSize":13.5,"color":"#333","baseline":"middle"},"encoding":{"text":{"field":"t"},"x":{"field":"c","type":"quantitative","scale":{"domain":[0,8],"range":[502.7,742],"nice":false,"zero":false},"axis":null},"y":{"field":"r","type":"quantitative","scale":{"domain":[0,43],"range":[111.7,461.3],"nice":false,"zero":false},"axis":null}}},
{"data":{"values":[{"g":"Non-malignant squamous","a":0.38,"b":4.83,"r":-6.9},{"g":"Squamous CSCC","a":5.05,"b":7.72,"r":-6.9}]},"mark":{"type":"rule","strokeWidth":1.5},"encoding":{"x":{"field":"a","type":"quantitative","scale":{"domain":[0,8],"range":[94,362],"nice":false,"zero":false},"axis":null},"x2":{"field":"b"},"y":{"field":"r","type":"quantitative","scale":{"domain":[0,45],"range":[112,461.3],"nice":false,"zero":false},"axis":null},"color":{"field":"g","type":"nominal","legend":null,"scale":{"domain":["Non-malignant squamous","Squamous CSCC"],"range":["#66b5ff","#f58fa0"]}}}},
{"data":{"values":[{"g":"Squamous CSCC","a":0.07,"b":3.08,"r":-6.57},{"g":"Spindle CSCC","a":3.35,"b":7.89,"r":-6.57}]},"mark":{"type":"rule","strokeWidth":1.5},"encoding":{"x":{"field":"a","type":"quantitative","scale":{"domain":[0,8],"range":[502.7,742],"nice":false,"zero":false},"axis":null},"x2":{"field":"b"},"y":{"field":"r","type":"quantitative","scale":{"domain":[0,43],"range":[111.7,461.3],"nice":false,"zero":false},"axis":null},"color":{"field":"g","type":"nominal","legend":null,"scale":{"domain":["Squamous CSCC","Spindle CSCC"],"range":["#f58fa0","#4a9a4a"]}}}},
{"data":{"values":[{"t":"A.","c":-1.34,"r":-13.59},{"t":"B.","c":11.42,"r":-13.4},{"t":"C.","c":-1.31,"r":75.6}]},"mark":{"type":"text","font":"Liberation Sans","fontSize":13,"fontWeight":"bold","color":"#111","baseline":"middle"},"encoding":{"text":{"field":"t"},"x":{"field":"c","type":"quantitative","scale":{"domain":[0,8],"range":[94,362],"nice":false,"zero":false},"axis":null},"y":{"field":"r","type":"quantitative","scale":{"domain":[0,45],"range":[112,461.3],"nice":false,"zero":false},"axis":null}}},
{"data":{"values":[{"a":6.07,"b":6.3},{"a":6.3,"b":6.53},{"a":6.53,"b":6.76},{"a":6.76,"b":6.99},{"a":6.99,"b":7.21},{"a":7.21,"b":7.44},{"a":7.44,"b":7.67},{"a":7.67,"b":7.9},{"a":7.9,"b":8.13},{"a":8.13,"b":8.36},{"a":8.36,"b":8.59},{"a":8.59,"b":8.82},{"a":8.82,"b":9.05},{"a":9.05,"b":9.28},{"a":9.28,"b":9.5},{"a":9.5,"b":9.73},{"a":9.73,"b":9.96},{"a":9.96,"b":10.19},{"a":10.19,"b":10.42},{"a":10.42,"b":10.65},{"a":10.65,"b":10.88},{"a":10.88,"b":11.11},{"a":11.11,"b":11.34},{"a":11.34,"b":11.57},{"a":11.57,"b":11.8},{"a":11.8,"b":12.02},{"a":12.02,"b":12.25},{"a":12.25,"b":12.48},{"a":12.48,"b":12.71},{"a":12.71,"b":12.94},{"a":12.94,"b":13.17},{"a":13.17,"b":13.4},{"a":13.4,"b":13.63},{"a":13.63,"b":13.86},{"a":13.86,"b":14.09},{"a":14.09,"b":14.31},{"a":14.31,"b":14.54},{"a":14.54,"b":14.77},{"a":14.77,"b":15},{"a":15,"b":15.23}]},"mark":{"type":"rect","strokeWidth":0.6},"encoding":{
"x":{"field":"a","type":"quantitative","scale":{"domain":[6.07,15.23],"range":[336,529],"nice":false,"zero":false},"axis":{"orient":"bottom","offset":-482,"values":[8,10,12,14],"title":"Normalized RMA value","titleFontSize":10.2,"titleFontWeight":"normal","titleColor":"#333","titlePadding":3,"labelFontSize":10.5,"labelColor":"#222","tickSize":3,"domain":true,"domainColor":"#222","tickColor":"#222","labelPadding":4}},
"x2":{"field":"b"},
"y":{"datum":0,"type":"quantitative","scale":{"domain":[0,1],"range":[568,549],"nice":false,"zero":false},"axis":null},"y2":{"datum":1},
"color":{"field":"a","type":"quantitative","legend":null,"scale":{"domain":[6.07,7.5,8.7,8.8,9.8,10.2,10.6,11.1,11.6,12.2,13,14,15.2],"range":["#2c4597","#34489a","#3f4f9e","#7a7db9","#a5a7c8","#b9bbc2","#bfbfbc","#c0bbb8","#c9a5a5","#d08e8d","#d96c6c","#e24a4a","#e8262b"]}},
"stroke":{"field":"a","type":"quantitative","legend":null,"scale":{"domain":[6.07,7.5,8.7,8.8,9.8,10.2,10.6,11.1,11.6,12.2,13,14,15.2],"range":["#2c4597","#34489a","#3f4f9e","#7a7db9","#a5a7c8","#b9bbc2","#bfbfbc","#c0bbb8","#c9a5a5","#d08e8d","#d96c6c","#e24a4a","#e8262b"]}}}},
{"data":{"values":[{"t":"Color Key","a":11.2,"k":1.7}]},"mark":{"type":"text","font":"Liberation Sans","fontSize":11.5,"fontWeight":"bold","color":"#222","baseline":"middle"},"encoding":{"text":{"field":"t"},"x":{"field":"a","type":"quantitative","scale":{"domain":[6.07,15.23],"range":[336,529],"nice":false,"zero":false},"axis":null},"y":{"field":"k","type":"quantitative","scale":{"domain":[0,1],"range":[568,549],"nice":false,"zero":false},"axis":null}}},
{"data":{"values":[
{"group":"Non-malignant","kind":"dot","dx":-4.7,"v":11.45},{"group":"Non-malignant","kind":"dot","dx":5,"v":11.45},{"group":"Non-malignant","kind":"dot","dx":0,"v":10.4},{"group":"Non-malignant","kind":"dot","dx":0,"v":8.88},{"group":"Non-malignant","kind":"dot","dx":0,"v":7.9},
{"group":"Squamous CSCC","kind":"dot","dx":0,"v":10.9},{"group":"Squamous CSCC","kind":"dot","dx":0,"v":9.83},{"group":"Squamous CSCC","kind":"dot","dx":0,"v":6.64},
{"group":"Spindle CSCC","kind":"dot","dx":0,"v":7.35},{"group":"Spindle CSCC","kind":"dot","dx":-4.3,"v":6.43},{"group":"Spindle CSCC","kind":"dot","dx":-14,"v":6.9},{"group":"Spindle CSCC","kind":"dot","dx":-9,"v":6.85},{"group":"Spindle CSCC","kind":"dot","dx":5,"v":6.85},{"group":"Spindle CSCC","kind":"dot","dx":14,"v":6.9},
{"group":"Non-malignant","kind":"mean","v":10.1},{"group":"Squamous CSCC","kind":"mean","v":9.15},{"group":"Spindle CSCC","kind":"mean","v":6.89},
{"group":"Non-malignant","kind":"cap","v":9.35},{"group":"Non-malignant","kind":"cap","v":10.8},{"group":"Squamous CSCC","kind":"cap","v":7.87},{"group":"Squamous CSCC","kind":"cap","v":10.44},{"group":"Spindle CSCC","kind":"cap","v":6.75},{"group":"Spindle CSCC","kind":"cap","v":7.03}
]},
"encoding":{"x":{"field":"group","type":"nominal","scale":{"domain":["Non-malignant","Squamous CSCC","Spindle CSCC"],"range":[113,359],"paddingInner":0,"paddingOuter":0},"axis":{"orient":"bottom","offset":-90.5,"title":null,"labelAngle":-45,"labelAlign":"right","labelBaseline":"middle","labelFontSize":12.3,"labelFontWeight":"bold","labelColor":"#222","labelPadding":7,"tickSize":5,"tickWidth":1.5,"tickColor":"#000","domainWidth":1.5,"domainColor":"#000","labelOverlap":false}},
"y":{"field":"v","type":"quantitative","scale":{"domain":[0,15],"range":[959.5,796],"nice":false,"zero":false},"axis":{"orient":"left","offset":-113,"values":[0,5,10,15],"title":"RMA normalized expression","titleFontSize":13,"titleFontWeight":"bold","titleColor":"#111","titlePadding":5,"labelFontSize":11.5,"labelFontWeight":"bold","labelColor":"#111","labelPadding":2,"tickSize":5,"tickWidth":1.5,"tickColor":"#000","domainWidth":1.5,"domainColor":"#000"}}},
"layer":[
{"transform":[{"filter":"datum.kind=='dot'"}],"mark":{"type":"point","filled":true,"size":40,"opacity":1,"color":"#000"},"encoding":{"xOffset":{"field":"dx","type":"quantitative","scale":{"domain":[-50,50],"range":[-9,91]}},"shape":{"field":"group","type":"nominal","legend":null,"scale":{"domain":["Non-malignant","Squamous CSCC","Spindle CSCC"],"range":["circle","square","triangle-up"]}}}},
{"transform":[{"filter":"datum.kind=='mean'"}],"mark":{"type":"tick","size":56,"thickness":1.7,"opacity":1,"color":"#000"}},
{"transform":[{"filter":"datum.kind=='cap'"}],"mark":{"type":"tick","size":29,"thickness":1.7,"opacity":1,"color":"#000"}},
{"transform":[{"filter":"datum.kind=='cap'"}],"mark":{"type":"line","strokeWidth":1.7,"color":"#000"},"encoding":{"detail":{"field":"group"}}},
{"data":{"values":[{"group":"Non-malignant","v":4.28,"o":1},{"group":"Non-malignant","v":3.46,"o":2},{"group":"Spindle CSCC","v":3.46,"o":3},{"group":"Spindle CSCC","v":4.28,"o":4}]},"mark":{"type":"line","strokeWidth":1,"color":"#222"},"encoding":{"order":{"field":"o","type":"quantitative"}}}
]},
{"data":{"values":[
{"group":"Non-malignant","kind":"dot","dx":0,"v":10.12},{"group":"Non-malignant","kind":"dot","dx":0,"v":8.19},{"group":"Non-malignant","kind":"dot","dx":-10,"v":7.45},{"group":"Non-malignant","kind":"dot","dx":10,"v":7.2},{"group":"Non-malignant","kind":"dot","dx":0,"v":6.8},
{"group":"Squamous CSCC","kind":"dot","dx":-10,"v":7.05},{"group":"Squamous CSCC","kind":"dot","dx":0,"v":6.7},{"group":"Squamous CSCC","kind":"dot","dx":10.5,"v":6.9},
{"group":"Spindle CSCC","kind":"dot","dx":-19.7,"v":7.1},{"group":"Spindle CSCC","kind":"dot","dx":-9.7,"v":6.85},{"group":"Spindle CSCC","kind":"dot","dx":0,"v":6.66},{"group":"Spindle CSCC","kind":"dot","dx":9.7,"v":6.75},{"group":"Spindle CSCC","kind":"dot","dx":19.7,"v":7.1},
{"group":"Non-malignant","kind":"mean","v":7.98},{"group":"Squamous CSCC","kind":"mean","v":6.9},{"group":"Spindle CSCC","kind":"mean","v":6.92},
{"group":"Non-malignant","kind":"cap","v":7.36},{"group":"Non-malignant","kind":"cap","v":8.59},{"group":"Squamous CSCC","kind":"cap","v":6.8},{"group":"Squamous CSCC","kind":"cap","v":7},{"group":"Spindle CSCC","kind":"cap","v":6.8},{"group":"Spindle CSCC","kind":"cap","v":7.05}
]},
"encoding":{"x":{"field":"group","type":"nominal","scale":{"domain":["Non-malignant","Squamous CSCC","Spindle CSCC"],"range":[482,727.5],"paddingInner":0,"paddingOuter":0},"axis":{"orient":"bottom","offset":-95,"title":null,"labelAngle":-45,"labelAlign":"right","labelBaseline":"middle","labelFontSize":12.3,"labelFontWeight":"bold","labelColor":"#222","labelPadding":7,"tickSize":5,"tickWidth":1.5,"tickColor":"#000","domainWidth":1.5,"domainColor":"#000","labelOverlap":false}},
"y":{"field":"v","type":"quantitative","scale":{"domain":[0,15],"range":[955,792],"nice":false,"zero":false},"axis":{"orient":"left","offset":-482,"values":[0,5,10,15],"title":"RMA normalized expression","titleFontSize":13,"titleFontWeight":"bold","titleColor":"#111","titlePadding":5,"labelFontSize":11.5,"labelFontWeight":"bold","labelColor":"#111","labelPadding":2,"tickSize":5,"tickWidth":1.5,"tickColor":"#000","domainWidth":1.5,"domainColor":"#000"}}},
"layer":[
{"transform":[{"filter":"datum.kind=='dot'"}],"mark":{"type":"point","filled":true,"size":40,"opacity":1,"color":"#000"},"encoding":{"xOffset":{"field":"dx","type":"quantitative","scale":{"domain":[-50,50],"range":[-9,91]}},"shape":{"field":"group","type":"nominal","legend":null,"scale":{"domain":["Non-malignant","Squamous CSCC","Spindle CSCC"],"range":["circle","square","triangle-up"]}}}},
{"transform":[{"filter":"datum.kind=='mean'"}],"mark":{"type":"tick","size":56,"thickness":1.7,"opacity":1,"color":"#000"}},
{"transform":[{"filter":"datum.kind=='cap'"}],"mark":{"type":"tick","size":29,"thickness":1.7,"opacity":1,"color":"#000"}},
{"transform":[{"filter":"datum.kind=='cap'"}],"mark":{"type":"line","strokeWidth":1.7,"color":"#000"},"encoding":{"detail":{"field":"group"}}}
]},
{"data":{"values":[{"t":"miR-205","p":1.33,"v":17.17},{"t":"miR-203","p":5.82,"v":17.4}]},"mark":{"type":"text","font":"Liberation Sans","fontSize":15.5,"fontStyle":"italic","color":"#222","baseline":"middle"},"encoding":{"text":{"field":"t"},"x":{"field":"p","type":"quantitative","scale":{"domain":[0,3],"range":[113,359],"nice":false,"zero":false},"axis":null},"y":{"field":"v","type":"quantitative","scale":{"domain":[0,15],"range":[959.5,796],"nice":false,"zero":false},"axis":null}}},
{"data":{"values":[{"t":"P","p":1.43,"v":13.7},{"t":"P","p":5.63,"v":14.0}]},"mark":{"type":"text","font":"Liberation Sans","fontSize":11.5,"fontStyle":"italic","color":"#333","align":"left","baseline":"middle"},"encoding":{"text":{"field":"t"},"x":{"field":"p","type":"quantitative","scale":{"domain":[0,3],"range":[113,359],"nice":false,"zero":false},"axis":null},"y":{"field":"v","type":"quantitative","scale":{"domain":[0,15],"range":[959.5,796],"nice":false,"zero":false},"axis":null}}},
{"data":{"values":[{"t":"= 0.041","p":1.56,"v":13.7},{"t":"= 0.086","p":5.76,"v":14.0}]},"mark":{"type":"text","font":"Liberation Sans","fontSize":11.5,"color":"#333","align":"left","baseline":"middle"},"encoding":{"text":{"field":"t"},"x":{"field":"p","type":"quantitative","scale":{"domain":[0,3],"range":[113,359],"nice":false,"zero":false},"axis":null},"y":{"field":"v","type":"quantitative","scale":{"domain":[0,15],"range":[959.5,796],"nice":false,"zero":false},"axis":null}}},
{"data":{"values":[{"t":"*","p":1.5,"v":2.6}]},"mark":{"type":"text","font":"Liberation Sans","fontSize":12,"color":"#222","baseline":"middle"},"encoding":{"text":{"field":"t"},"x":{"field":"p","type":"quantitative","scale":{"domain":[0,3],"range":[113,359],"nice":false,"zero":false},"axis":null},"y":{"field":"v","type":"quantitative","scale":{"domain":[0,15],"range":[959.5,796],"nice":false,"zero":false},"axis":null}}}
]}
